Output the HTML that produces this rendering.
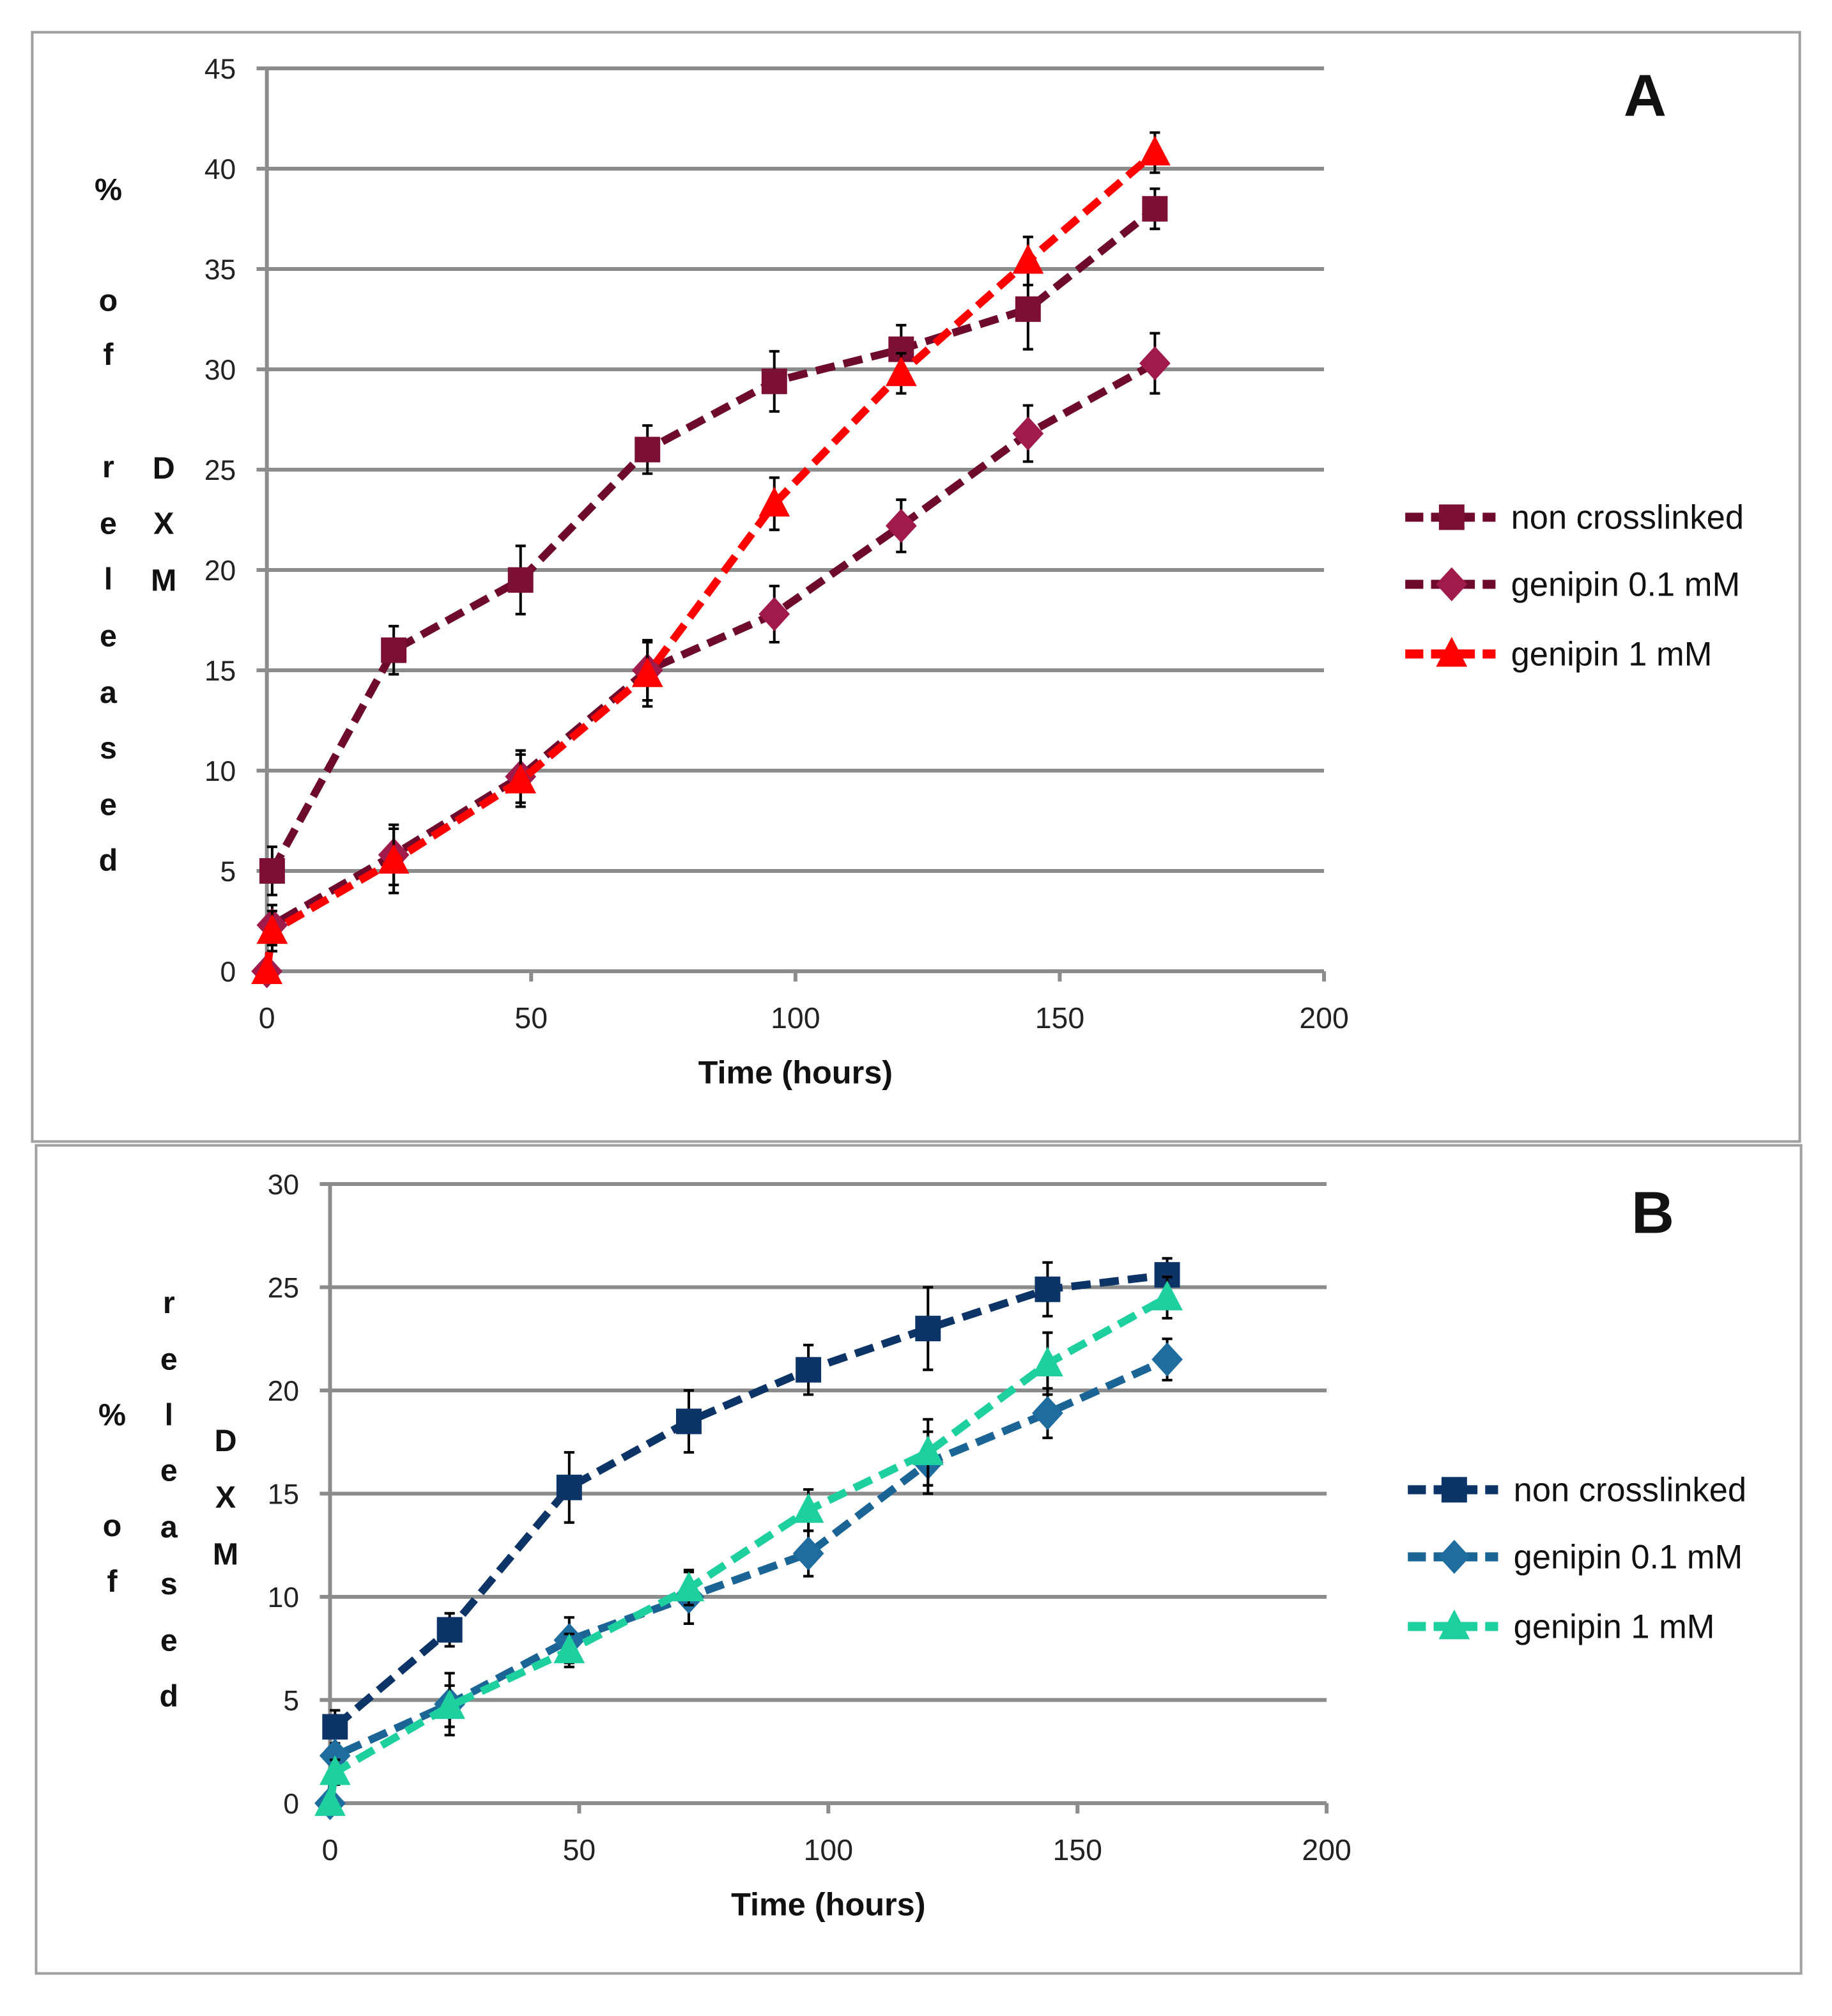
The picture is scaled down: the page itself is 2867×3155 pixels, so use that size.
<!DOCTYPE html>
<html><head><meta charset="utf-8"><style>
html,body{margin:0;padding:0;background:#fff;}
svg{display:block;font-family:"Liberation Sans",Arial,sans-serif;}
</style></head><body>
<svg id="fig" width="2867" height="3155" viewBox="0 0 1421 1563" preserveAspectRatio="none" xmlns="http://www.w3.org/2000/svg"></svg>
<script>
// shared x
const timesA = [0,1,24,48,72,96,120,144,168];
// Panel A series
const aNon = [null,5,16,19.5,26,29.4,31,33,38];
const aNonErr = [0,1.2,1.2,1.7,1.2,1.5,1.2,2,1];
const aG01 = [0,2.3,5.8,9.7,15,17.8,22.2,26.8,30.3];
const aG01Err = [0,1,1.5,1.3,1.5,1.4,1.3,1.4,1.5];
const aG1 = [0,2,5.5,9.5,14.8,23.3,29.8,35.4,40.8];
const aG1Err = [0,1,1.6,1.3,1.6,1.3,1,1.2,1];
// Panel B series
const bNon = [null,3.7,8.4,15.3,18.5,21,23,24.9,25.6];
const bNonErr = [0,0.8,0.8,1.7,1.5,1.2,2,1.3,0.8];
const bG01 = [0,2.3,4.8,7.9,10,12.1,16.5,18.9,21.5];
const bG01Err = [0,0.5,1.5,1.1,1.3,1.1,1.5,1.2,1];
const bG1 = [0,1.5,4.7,7.4,10.4,14.2,17,21.3,24.5];
const bG1Err = [0,0.6,1,0.8,0.8,1,1.6,1.5,1];
const xTicks = [0,50,100,150,200];
const yTicksA = [0,5,10,15,20,25,30,35,40,45];
const yTicksB = [0,5,10,15,20,25,30];
const legendLabels = ["non crosslinked","genipin 0.1 mM","genipin 1 mM"];

const NS="http://www.w3.org/2000/svg";
const svg=document.getElementById('fig');
function el(tag,attrs,parent){const e=document.createElementNS(NS,tag);for(const k in attrs)e.setAttribute(k,attrs[k]);(parent||svg).appendChild(e);return e;}

function marker(g,shape,cx,cy,fill,s){
  let m;
  if(shape==='square') m=el('rect',{x:cx-9*s,y:cy-9*s,width:18*s,height:18*s,fill:fill},g);
  else if(shape==='diamond') m=el('polygon',{points:`${cx},${cy-12*s} ${cx+11*s},${cy} ${cx},${cy+12*s} ${cx-11*s},${cy}`,fill:fill},g);
  else m=el('polygon',{points:`${cx},${cy-12*s} ${cx+11*s},${cy+9*s} ${cx-11*s},${cy+9*s}`,fill:fill},g);
  return m;
}

function panel(cfg){
  const p=el('g',{});
  
  
  const b=el('rect',{x:cfg.box[0],y:cfg.box[1],width:cfg.box[2],height:cfg.box[3],fill:'none',stroke:'#a0a0a0','stroke-width':2},p);
  
  
  const xs=t=>cfg.x0+(cfg.x1-cfg.x0)*t/200;
  const ys=v=>cfg.y0-(cfg.y0-cfg.yTop)*v/cfg.yMax;
  cfg.yTicks.forEach(v=>{
    const l=el('line',{x1:cfg.x0-8,x2:cfg.x1,y1:ys(v),y2:ys(v),stroke:'#8c8c8c','stroke-width':3},p);
    
    
    const t=el('text',{x:cfg.x0-24,y:ys(v)+8,'font-size':22,'text-anchor':'end',fill:'#222'},p);
    t.textContent=v;
    
    
  });
  const ya=el('line',{x1:cfg.x0,x2:cfg.x0,y1:cfg.yTop,y2:cfg.y0,stroke:'#8c8c8c','stroke-width':3},p);
  
  
  xTicks.forEach(v=>{
    const l=el('line',{x1:xs(v),x2:xs(v),y1:cfg.y0,y2:cfg.y0+8,stroke:'#8c8c8c','stroke-width':3},p);
    
    
    const t=el('text',{x:xs(v),y:cfg.y0+44,'font-size':23,'text-anchor':'middle',fill:'#222'},p);
    t.textContent=v;
    
    
  });
  const xt=el('text',{x:(cfg.x0+cfg.x1)/2,y:cfg.y0+87,'font-size':25,'font-weight':'bold','text-anchor':'middle',fill:'#111'},p);
  xt.textContent='Time (hours)';
  
  
  const pl=el('text',{x:cfg.letter[0],y:cfg.letter[1],'font-size':46,'font-weight':'bold','text-anchor':'middle',fill:'#111'},p);
  pl.textContent=cfg.letter[2];
  
  
  const yl=el('g',{},p);
  
  
  cfg.ylab.forEach(c=>{const t=el('text',{x:c[1],y:c[2]+8,'font-size':24,'font-weight':'bold','text-anchor':'middle',fill:'#111'},yl);t.textContent=c[0];});
  cfg.series.forEach((s,si)=>{
    const g=el('g',{},p);
    
    
    const pts=[];
    s.vals.forEach((v,i)=>{if(v!==null)pts.push([xs(timesA[i]),ys(v),i]);});
    pts.forEach(q=>{const e=s.err[q[2]];if(e>0){const top=ys(s.vals[q[2]]+e),bot=ys(s.vals[q[2]]-e);
      el('line',{x1:q[0],x2:q[0],y1:top,y2:bot,stroke:'#000','stroke-width':2},g);
      el('line',{x1:q[0]-4,x2:q[0]+4,y1:top,y2:top,stroke:'#000','stroke-width':2},g);
      el('line',{x1:q[0]-4,x2:q[0]+4,y1:bot,y2:bot,stroke:'#000','stroke-width':2},g);}});
    const ln=el('polyline',{points:pts.map(q=>q[0]+','+q[1]).join(' '),fill:'none',stroke:s.line,'stroke-width':6,'stroke-dasharray':'15 7'},g);
    
    
    pts.forEach(q=>{const m=marker(g,s.shape,q[0],q[1],s.fill,1.1);
      
      });
    const lg=el('g',{},p);
    
    
    const ly=cfg.legY[si];
    el('line',{x1:cfg.legX,x2:cfg.legX+70,y1:ly,y2:ly,stroke:s.line,'stroke-width':7,'stroke-dasharray':'14 6'},lg);
    marker(lg,s.shape,cfg.legX+36,ly,s.fill,1.1);
    const lt=el('text',{x:cfg.legX+82,y:ly+9,'font-size':26,fill:'#111'},lg);
    lt.textContent=legendLabels[si];
  });
}

panel({name:'panel-a',box:[25,25,1371,860],x0:207,x1:1027,y0:753,yTop:53,yMax:45,yTicks:yTicksA,
  letter:[1276,90,'A'],legX:1090,legY:[401,453,507],
  ylab:[['%',84,147],['o',84,233],['f',84,275],['r',84,362],['e',84,406],['l',84,449],['e',84,493],['a',84,537],['s',84,580],['e',84,624],['d',84,667],['D',127,363],['X',127,406],['M',127,450]],
  series:[{key:'a-non-crosslinked',vals:aNon,err:aNonErr,line:'#6e0a2e',fill:'#7b0f35',shape:'square'},
          {key:'a-genipin-0-1',vals:aG01,err:aG01Err,line:'#6e0a2e',fill:'#a01a4c',shape:'diamond'},
          {key:'a-genipin-1',vals:aG1,err:aG1Err,line:'#ff0000',fill:'#ff0000',shape:'triangle'}]});
panel({name:'panel-b',box:[28,888,1369,642],x0:256,x1:1029,y0:1398,yTop:918,yMax:30,yTicks:yTicksB,
  letter:[1282,956,'B'],legX:1092,legY:[1155,1207,1261],
  ylab:[['%',87,1097],['o',87,1183],['f',87,1226],['r',131,1010],['e',131,1054],['l',131,1097],['e',131,1140],['a',131,1184],['s',131,1228],['e',131,1272],['d',131,1315],['D',175,1117],['X',175,1161],['M',175,1205]],
  series:[{key:'b-non-crosslinked',vals:bNon,err:bNonErr,line:'#0d3466',fill:'#0d3466',shape:'square'},
          {key:'b-genipin-0-1',vals:bG01,err:bG01Err,line:'#1a6596',fill:'#1e6d9e',shape:'diamond'},
          {key:'b-genipin-1',vals:bG1,err:bG1Err,line:'#1fd09f',fill:'#1fd09f',shape:'triangle'}]});
</script>
</body></html>
